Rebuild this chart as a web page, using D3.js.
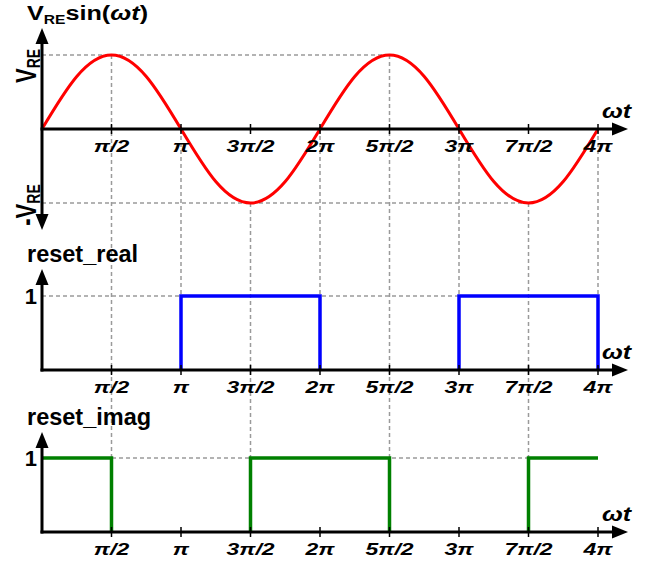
<!DOCTYPE html>
<html>
<head>
<meta charset="utf-8">
<script src="https://cdn.jsdelivr.net/npm/d3@7"></script>
<style>
  html,body{margin:0;padding:0;background:#fff;}
  svg{display:block;}
  text{font-family:Arial,"Liberation Sans",sans-serif;font-weight:bold;fill:#000;}
</style>
</head>
<body>
<svg id="chart" width="652" height="565"></svg>
<script>
// ---- data (x in units of pi/2) ----
const tickPos    = [1, 2, 3, 4, 5, 6, 7, 8];
const tickLabels = ["π/2", "π", "3π/2", "2π", "5π/2", "3π", "7π/2", "4π"];

// V_RE sin(wt), read every pi/4
const sineX = [0,0.5,1,1.5,2,2.5,3,3.5,4,4.5,5,5.5,6,6.5,7,7.5,8];
const sineY = [0,0.71,1,0.71,0,-0.71,-1,-0.71,0,0.71,1,0.71,0,-0.71,-1,-0.71,0];

// reset_real step signal (value held from x until next x)
const realX = [0, 2, 4, 6, 8];
const realY = [0, 1, 0, 1, 0];

// reset_imag step signal
const imagX = [0, 1, 3, 5, 7, 8];
const imagY = [1, 0, 1, 0, 1, 1];

// ---- layout ----
const svg = d3.select("#chart");
const x = d3.scaleLinear().domain([0, 8]).range([42, 598]);
const yTop = d3.scaleLinear().domain([-1, 1]).range([203, 55]);
const yMid = d3.scaleLinear().domain([0, 1]).range([370, 296]);
const yBot = d3.scaleLinear().domain([0, 1]).range([532, 458]);

const gridCol = "#9a9a9a";
const dash = "4,3";

function sineAt(v){ return sineY[sineX.indexOf(v)]; }

// ---- guide lines ----
const g = svg.append("g");
const lastPeak   = d3.max(sineX.filter((v,i)=>sineY[i]===1));
const lastTrough = d3.max(sineX.filter((v,i)=>sineY[i]===-1));
const lastRealHigh = d3.max(realX.filter((v,i)=>realY[i]===1));
const lastImagHigh = d3.max(imagX.filter((v,i)=>imagY[i]===1 && i<imagX.length-1));
const hGuides = [
  [0, lastPeak, yTop(1)],
  [0, lastTrough, yTop(-1)],
  [0, lastRealHigh, yMid(1)],
  [0, lastImagHigh, yBot(1)]
];
g.selectAll("line.hg").data(hGuides).join("line")
  .attr("x1", d=>x(d[0])).attr("x2", d=>x(d[1]))
  .attr("y1", d=>d[2]).attr("y2", d=>d[2])
  .attr("stroke", gridCol).attr("stroke-width", 1.5).attr("stroke-dasharray", dash);
g.selectAll("line.vg").data(tickPos).join("line")
  .attr("x1", d=>x(d)).attr("x2", d=>x(d))
  .attr("y1", d=>yTop(sineAt(d)))
  .attr("y2", d=> realX.includes(d) ? yMid(1) : yBot(1))
  .attr("stroke", gridCol).attr("stroke-width", 1.5).attr("stroke-dasharray", dash);

// ---- signals ----
svg.append("path")
  .datum(sineX.map((v,i)=>[v, sineY[i]]))
  .attr("d", d3.line().x(d=>x(d[0])).y(d=>yTop(d[1])).curve(d3.curveNatural))
  .attr("fill","none").attr("stroke","#ff0000").attr("stroke-width",3);

// high pulses only (low level lies on the axis)
function pulses(xs, ys){
  const out = [];
  for(let i=0;i<xs.length-1;i++){
    if(ys[i]===1){
      const seg = [];
      if(xs[i]>0) seg.push([xs[i],0]);
      seg.push([xs[i],1]);
      seg.push([xs[i+1],1]);
      if(ys[i+1]===0) seg.push([xs[i+1],0]);
      out.push(seg);
    }
  }
  return out;
}
svg.selectAll(null).data(pulses(realX, realY)).join("path")
  .attr("d", d3.line().x(d=>x(d[0])).y(d=>yMid(d[1])))
  .attr("fill","none").attr("stroke","#0000ff").attr("stroke-width",3.5);

svg.selectAll(null).data(pulses(imagX, imagY)).join("path")
  .attr("d", d3.line().x(d=>x(d[0])).y(d=>yBot(d[1])))
  .attr("fill","none").attr("stroke","#008000").attr("stroke-width",3.5);

// ---- axes ----
function arrowHead(tx, ty, dir){
  const L = 16, W = 6.5;
  let pts;
  if(dir==='up') pts = [[tx,ty],[tx-W,ty+L],[tx+W,ty+L]];
  else if(dir==='down') pts = [[tx,ty],[tx-W,ty-L],[tx+W,ty-L]];
  else pts = [[tx,ty],[tx-L,ty-W],[tx-L,ty+W]];
  svg.append("path").attr("d","M"+pts.map(p=>p.join(",")).join("L")+"Z").attr("fill","#000");
}
const axisX0 = x(0), axisXEnd = 628;
const panels = [
  {y0: yTop(0), yTopTip: 28, yBotTip: 230},
  {y0: yMid(0), yTopTip: 269, yBotTip: null},
  {y0: yBot(0), yTopTip: 432, yBotTip: null}
];
panels.forEach(p=>{
  svg.append("line").attr("x1",axisX0-1.5).attr("x2",axisXEnd-10).attr("y1",p.y0).attr("y2",p.y0)
    .attr("stroke","#000").attr("stroke-width",3);
  arrowHead(axisXEnd, p.y0, 'right');
  const yb = p.yBotTip ? p.yBotTip - 10 : p.y0 + 1.5;
  svg.append("line").attr("x1",axisX0).attr("x2",axisX0).attr("y1",p.yTopTip+10).attr("y2",yb)
    .attr("stroke","#000").attr("stroke-width",3);
  arrowHead(axisX0, p.yTopTip, 'up');
  if(p.yBotTip) arrowHead(axisX0, p.yBotTip, 'down');
  svg.selectAll(null).data(tickPos).join("line")
    .attr("x1",d=>x(d)).attr("x2",d=>x(d)).attr("y1",p.y0-5).attr("y2",p.y0+5)
    .attr("stroke","#000").attr("stroke-width",1.5);
  svg.selectAll(null).data(tickPos).join("text")
    .attr("transform", d=>`translate(${x(d)},${p.y0+23}) scale(1.35,1)`)
    .attr("text-anchor","middle").attr("font-style","italic").attr("font-size",17)
    .text((d,i)=>tickLabels[i]);
  svg.append("text")
    .attr("transform", `translate(602,${p.y0-11}) scale(1.25,1)`)
    .attr("font-style","italic").attr("font-size",20)
    .text("ωt");
});

// ---- texts ----
const title = svg.append("text").attr("transform","translate(27,20) scale(1.2,1)").attr("font-size",21);
title.append("tspan").text("V");
title.append("tspan").attr("font-size",13).attr("dy",4).text("RE");
title.append("tspan").attr("dy",-4).text("sin(");
title.append("tspan").attr("font-style","italic").text("ωt");
title.append("tspan").text(")");

function vLabel(cy, prefix){
  const t = svg.append("text").attr("transform",`translate(36,${cy}) scale(1.3,1) rotate(-90)`)
    .attr("text-anchor","middle").attr("font-size",22);
  t.append("tspan").text(prefix + "V");
  t.append("tspan").attr("font-size",14).attr("dy",3).text("RE");
}
vLabel(66, "");
vLabel(205, "-");

svg.append("text").attr("x",27).attr("y",262).attr("font-size",23.5).text("reset_real");
svg.append("text").attr("x",27).attr("y",425).attr("font-size",23.5).text("reset_imag");
svg.append("text").attr("x",37).attr("y",yMid(1)+8).attr("text-anchor","end").attr("font-size",22).text("1");
svg.append("text").attr("x",37).attr("y",yBot(1)+8).attr("text-anchor","end").attr("font-size",22).text("1");
</script>
</body>
</html>
